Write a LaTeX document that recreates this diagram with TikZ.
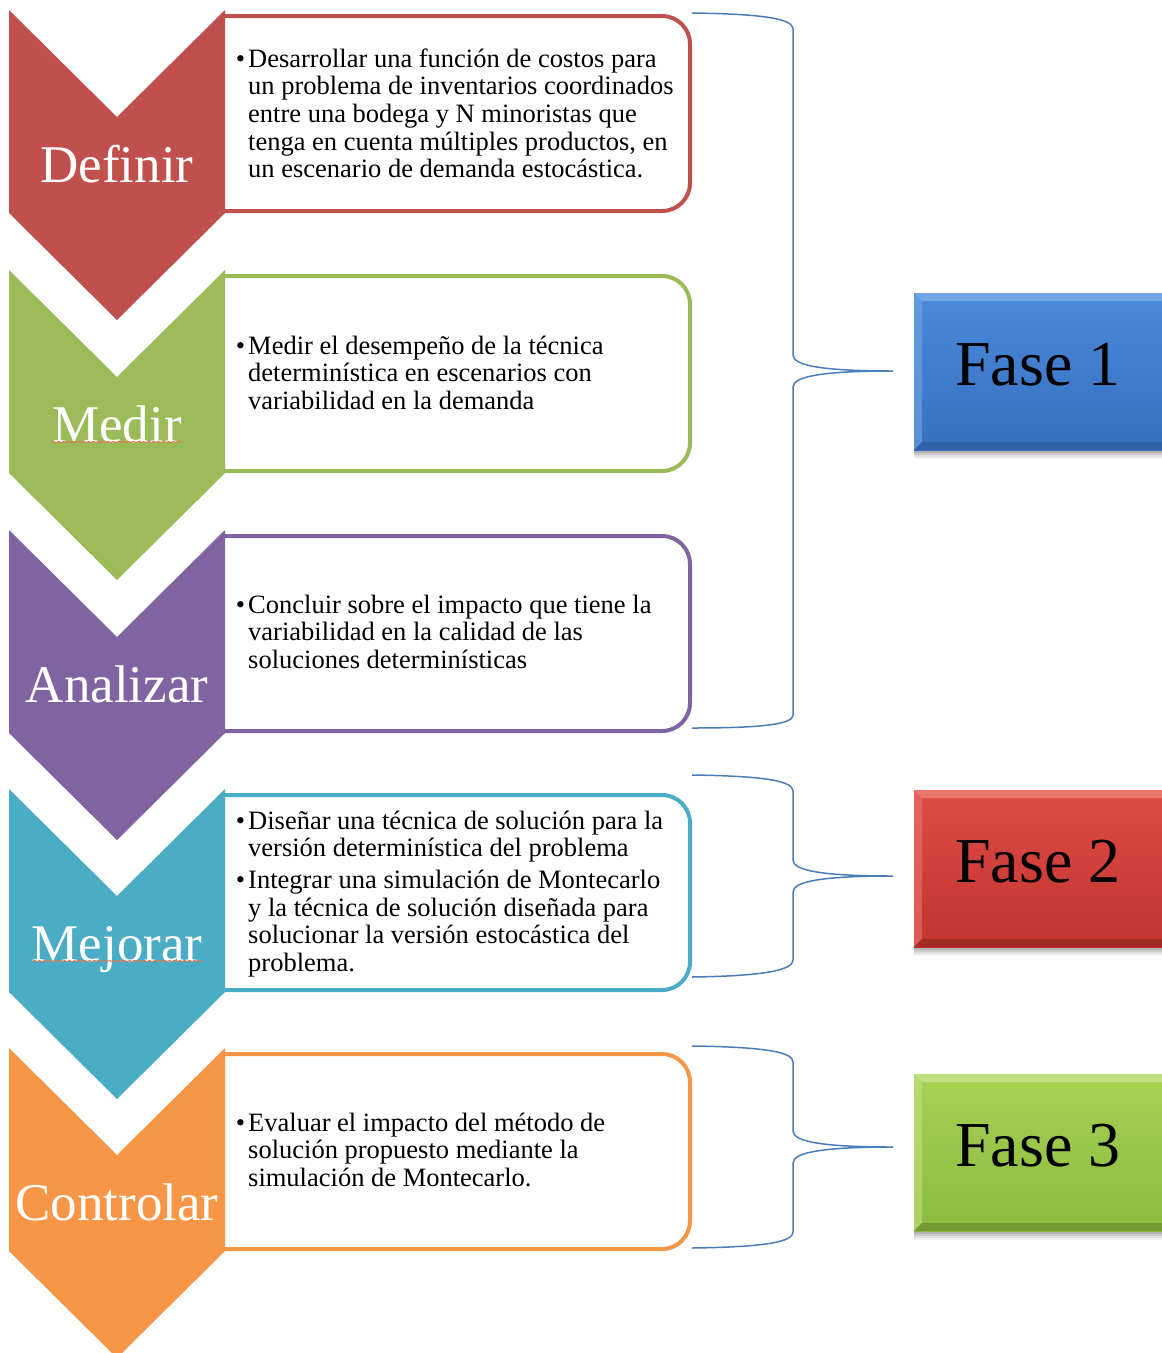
\documentclass[tikz,border=0pt]{standalone}
\usepackage{fontspec}
\setmainfont{Liberation Serif}
\usetikzlibrary{decorations.pathmorphing}
\definecolor{cRed}{HTML}{C0504D}
\definecolor{cGreen}{HTML}{9BBB59}
\definecolor{cPurple}{HTML}{8064A2}
\definecolor{cTeal}{HTML}{4BACC6}
\definecolor{cOrange}{HTML}{F79646}
\definecolor{braceBlue}{HTML}{4A7EBB}
\definecolor{spell}{HTML}{E07A55}
\definecolor{fAtop}{HTML}{4A8AD9}\definecolor{fAbot}{HTML}{3670BF}\definecolor{fAlt}{HTML}{72A6E6}\definecolor{fAdk}{HTML}{2F62A8}
\definecolor{fBtop}{HTML}{DF4B45}\definecolor{fBbot}{HTML}{C2342F}\definecolor{fBlt}{HTML}{EA756F}\definecolor{fBdk}{HTML}{A32B27}
\definecolor{fCtop}{HTML}{A6D253}\definecolor{fCbot}{HTML}{8BBA3E}\definecolor{fClt}{HTML}{C0E082}\definecolor{fCdk}{HTML}{739A33}
\tikzset{
  tbox/.style={draw=#1, line width=4pt, fill=white},
  lbl/.style={text=white, font=\fontsize{53}{60}\selectfont, anchor=base, inner sep=0pt},
  body/.style={anchor=north west, inner sep=0pt, align=left, font=\fontsize{26.5}{27.6}\selectfont},
  brace/.style={draw=braceBlue, line width=1.5pt},
  fasetxt/.style={font=\fontsize{64}{70}\selectfont, anchor=base, inner sep=0pt},
  spellline/.style={draw=spell, line width=1pt, decorate, decoration={snake, amplitude=0.5pt, segment length=5pt}},
}
\newcommand\mystage[4]{%
  \begin{scope}[yshift=-#1pt]
    \draw[tbox=#2] (225,6) -- (662,6) .. controls (677.5,6) and (690,18.5) .. (690,34)
      -- (690,173) .. controls (690,188.5) and (677.5,201) .. (662,201) -- (225,201);
    \fill[#2] (9,0) -- (117,107) -- (225,0) -- (225,203) -- (117,310) -- (9,203) -- cycle;
    \node[lbl] (#3) at (117,172) {#4};
  \end{scope}}
\newcommand\myfase[7]{%
  \begin{scope}[yshift=-#1pt]
    \foreach \o/\a in {9/0.05,7/0.07,5/0.09,3/0.11}{
      \fill[black, opacity=\a] (914,\o) rectangle (1175,157+\o);}
    \shade[top color=#3, bottom color=#4] (914,0) rectangle (1175,157);
    \fill[#5] (914,0) -- (1175,0) -- (1175,8) -- (922,8) -- cycle;
    \fill[#5, opacity=0.6] (914,0) -- (922,8) -- (922,149) -- (914,157) -- cycle;
    \fill[#6] (914,157) -- (922,149) -- (1175,149) -- (1175,157) -- cycle;
    \node[fasetxt] (#2) at (1038,92) {#7};
  \end{scope}}
\begin{document}
\begin{tikzpicture}[x=1pt,y=-1pt]
\useasboundingbox (0,0) rectangle (1162,1353);
\fill[white] (0,0) rectangle (1162,1353);

\mystage{10}{cRed}{definir}{Definir}
\mystage{270}{cGreen}{medir}{Medir}
\mystage{530}{cPurple}{analizar}{Analizar}
\mystage{789}{cTeal}{mejorar}{Mejorar}
\mystage{1048}{cOrange}{controlar}{Controlar}

\draw[spellline] (52,442) -- (182,442);
\draw[spellline] (33,961) -- (203,961);

\node[body] (t1) at (248,45) {\rule{0pt}{22pt}\llap{\textbullet\hspace{3pt}}Desarrollar una función de costos para\\
un problema de inventarios coordinados\\
entre una bodega y N minoristas que\\
tenga en cuenta múltiples productos, en\\
un escenario de demanda estocástica.};

\node[body] (t2) at (248,332) {\rule{0pt}{22pt}\llap{\textbullet\hspace{3pt}}Medir el desempeño de la técnica\\
determinística en escenarios con\\
variabilidad en la demanda};

\node[body] (t3) at (248,591) {\rule{0pt}{22pt}\llap{\textbullet\hspace{3pt}}Concluir sobre el impacto que tiene la\\
variabilidad en la calidad de las\\
soluciones determinísticas};

\node[body] (t4) at (248,807) {\rule{0pt}{22pt}\llap{\textbullet\hspace{3pt}}Diseñar una técnica de solución para la\\
versión determinística del problema\\[4pt]
\llap{\textbullet\hspace{3pt}}Integrar una simulación de Montecarlo\\
y la técnica de solución diseñada para\\
solucionar la versión estocástica del\\
problema.};

\node[body] (t5) at (248,1109) {\rule{0pt}{22pt}\llap{\textbullet\hspace{3pt}}Evaluar el impacto del método de\\
solución propuesto mediante la\\
simulación de Montecarlo.};

% braces
\coordinate (b1) at (893,371);
\coordinate (b2) at (893,876);
\coordinate (b3) at (893,1147);
\draw[brace] (692,13) .. controls (765,14) and (793,19) .. (793,29) -- (793,355)
  .. controls (793,366) and (825,371) .. (b1)
  .. controls (825,371) and (793,376) .. (793,387) -- (793,715)
  .. controls (793,724) and (765,728) .. (692,728);
\draw[brace] (692,775) .. controls (765,776) and (793,781) .. (793,791) -- (793,860)
  .. controls (793,871) and (825,876) .. (b2)
  .. controls (825,876) and (793,881) .. (793,892) -- (793,960)
  .. controls (793,970) and (765,976) .. (692,977);
\draw[brace] (692,1046) .. controls (765,1047) and (793,1052) .. (793,1062) -- (793,1131)
  .. controls (793,1142) and (825,1147) .. (b3)
  .. controls (825,1147) and (793,1152) .. (793,1163) -- (793,1232)
  .. controls (793,1242) and (765,1247) .. (692,1248);

\myfase{293}{fase1}{fAtop}{fAbot}{fAlt}{fAdk}{Fase 1}
\myfase{790}{fase2}{fBtop}{fBbot}{fBlt}{fBdk}{Fase 2}
\myfase{1074}{fase3}{fCtop}{fCbot}{fClt}{fCdk}{Fase 3}
\end{tikzpicture}
\end{document}
